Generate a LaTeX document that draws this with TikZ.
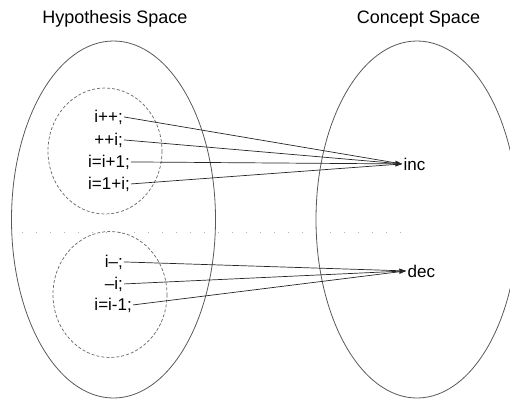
\documentclass[tikz,border=0pt]{standalone}
\usepackage{fontspec}
\setmainfont{Liberation Sans}
\usetikzlibrary{arrows.meta}
\begin{document}
\begin{tikzpicture}[x=1pt,y=-1pt,
  title/.style={font=\fontsize{18}{20}\selectfont, inner sep=0pt, anchor=base},
  lab/.style={font=\fontsize{17}{19}\selectfont, inner sep=1pt, anchor=base east},
  tgt/.style={font=\fontsize{17}{19}\selectfont, inner sep=1.5pt, anchor=base west},
  space/.style={draw=black!65, line width=0.8pt},
  group/.style={draw=black!60, line width=0.7pt, dash pattern=on 3pt off 2pt},
  link/.style={draw=black!85, line width=0.7pt, -{Stealth[length=7pt,width=4.5pt]}}]
\useasboundingbox (0,0) rectangle (510,400);
\clip (0,0) rectangle (510,400);
% faint divider
\draw[black!30, line width=0.7pt, dash pattern=on 1pt off 13pt] (22,232) -- (410,232);
% spaces
\draw[space] (113.5,219.5) ellipse [x radius=102, y radius=178.5];
\draw[space] (417,219.5) ellipse [x radius=101, y radius=178.5];
\draw[group] (105,151) ellipse [x radius=57, y radius=63];
\draw[group] (110,294.5) ellipse [x radius=57, y radius=63];
% titles
\node[title] (th) at (115,23) {Hypothesis Space};
\node[title] (tc) at (418.5,23) {Concept Space};
% hypotheses
\node[lab] (h1) at (124,122) {i++;};
\node[lab] (h2) at (124,145) {++i;};
\node[lab] (h3) at (131,167) {i=i+1;};
\node[lab] (h4) at (131,189) {i=1+i;};
\node[lab] (h5) at (124,267) {i–;};
\node[lab] (h6) at (124,289) {–i;};
\node[lab] (h7) at (133,310) {i=i-1;};
% concepts
\node[tgt] (inc) at (402,170) {inc};
\node[tgt] (dec) at (406,277) {dec};
% links
\foreach \h in {h1,h2,h3,h4} \draw[link] (\h.east) -- (inc.west);
\foreach \h in {h5,h6,h7} \draw[link] (\h.east) -- (dec.west);
\end{tikzpicture}
\end{document}
